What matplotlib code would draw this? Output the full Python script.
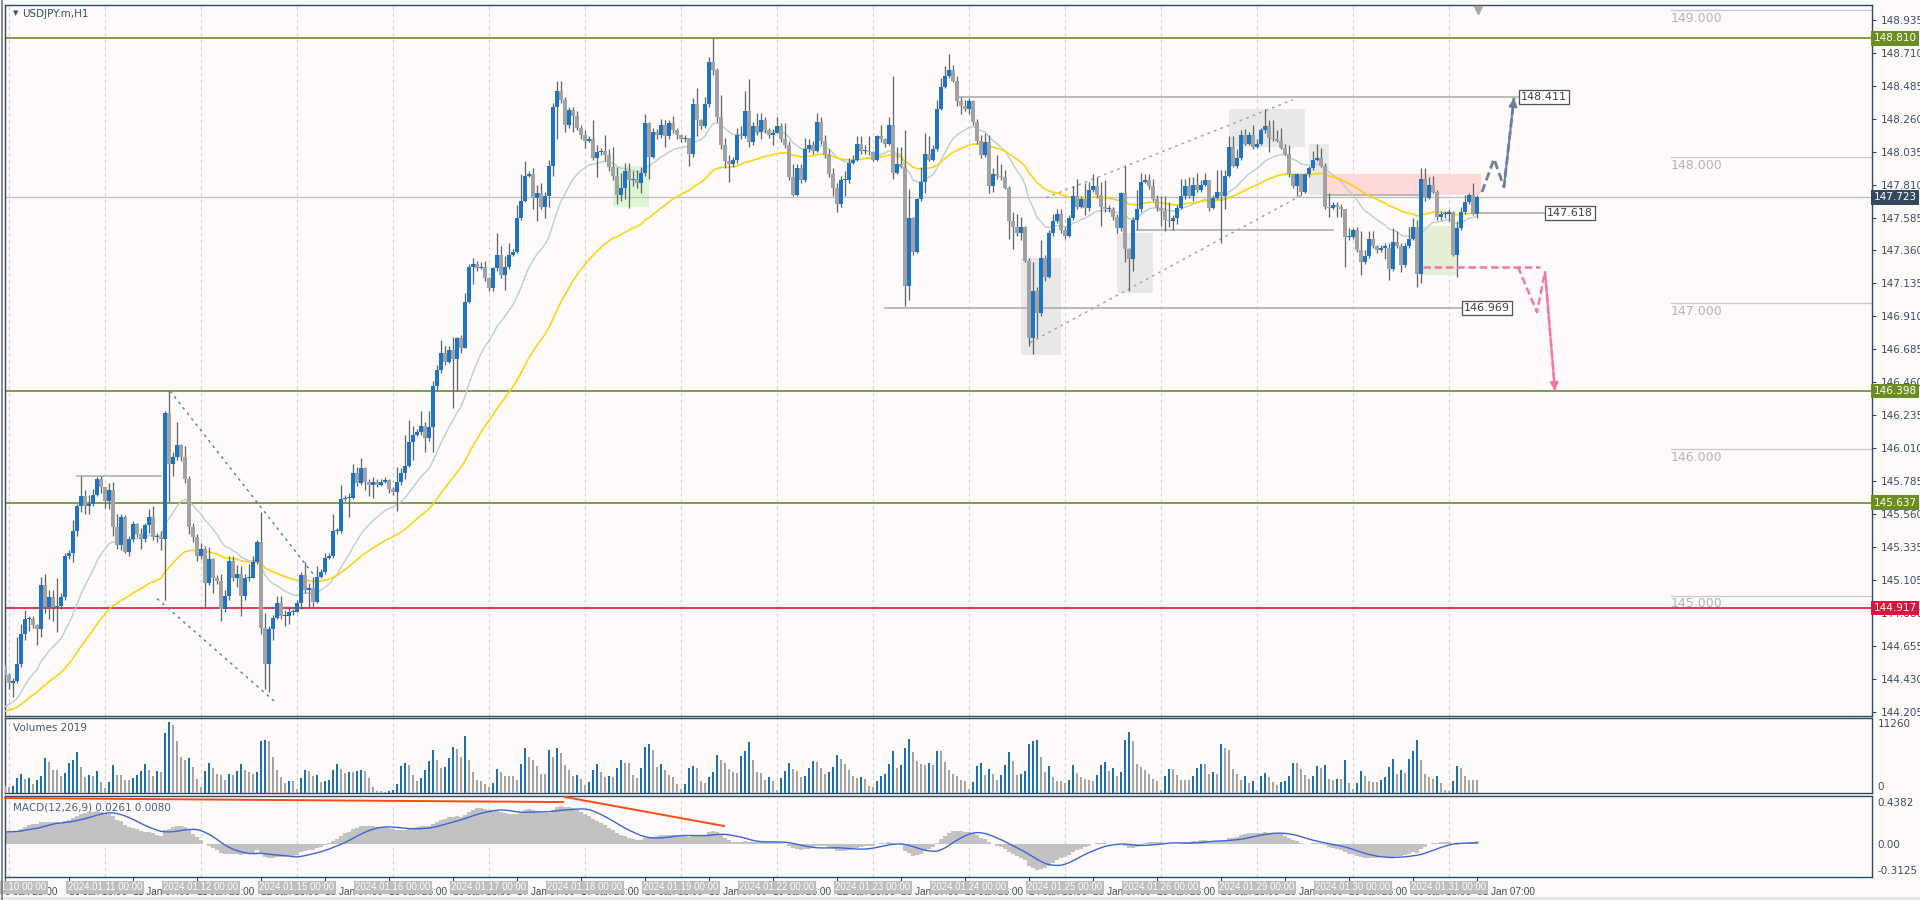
import matplotlib
matplotlib.use("Agg")
import matplotlib.pyplot as plt
import matplotlib.transforms as mtransforms
from matplotlib.patches import Rectangle
import numpy as np
import pandas as pd

# ---------------- data ----------------
symbol_title = "USDJPY.m,H1"
volume_title = "Volumes 2019"
macd_title = "MACD(12,26,9) 0.0261 0.0080"
trading_days = ["2024.01.10", "2024.01.11", "2024.01.12", "2024.01.15", "2024.01.16", "2024.01.17",
                "2024.01.18", "2024.01.19", "2024.01.22", "2024.01.23", "2024.01.24", "2024.01.25",
                "2024.01.26", "2024.01.29", "2024.01.30", "2024.01.31"]
first_bar_time = "2024-01-09 23:00"
first_open = 144.52

closes = [
    144.46, 144.40, 144.42, 144.53, 144.74, 144.84, 144.84, 144.80, 144.77, 145.07, 144.92, 144.99, 144.92,
    144.93, 144.99, 145.27, 145.29, 145.44, 145.61, 145.68, 145.61, 145.63, 145.69, 145.80, 145.74,
    145.65, 145.72, 145.47, 145.35, 145.54, 145.30, 145.39, 145.49, 145.42, 145.39, 145.48, 145.54,
    145.40, 145.40, 145.39, 146.25, 145.90, 145.95, 146.03, 145.95, 145.80, 145.47, 145.40, 145.27,
    145.32, 145.09, 145.25, 145.12, 145.10, 144.91, 145.00, 145.24, 145.12, 145.15, 145.00, 145.12,
    145.12, 145.23, 145.37, 144.78, 144.53, 144.77, 144.85, 144.95, 144.86, 144.86, 144.89, 144.89,
    144.95, 145.14, 145.04, 145.05, 144.96, 145.13, 145.16, 145.26, 145.27, 145.44, 145.44, 145.66,
    145.67, 145.67, 145.84, 145.77, 145.87, 145.78, 145.76, 145.78, 145.76, 145.78, 145.79, 145.73,
    145.71, 145.78, 145.84, 145.89, 146.05, 146.10, 146.12, 146.16, 146.08, 146.15, 146.43, 146.54,
    146.66, 146.60, 146.68, 146.62, 146.76, 146.69, 147.01, 147.25, 147.27, 147.24, 147.25, 147.17,
    147.10, 147.24, 147.33, 147.19, 147.25, 147.33, 147.35, 147.58, 147.70, 147.87, 147.88, 147.72,
    147.75, 147.66, 147.73, 147.94, 148.34, 148.45, 148.39, 148.22, 148.32, 148.28, 148.20, 148.15,
    148.11, 148.12, 147.99, 148.03, 148.04, 148.01, 147.93, 147.87, 147.74, 147.79, 147.90, 147.84,
    147.85, 147.82, 147.89, 148.23, 148.00, 148.17, 148.15, 148.22, 148.14, 148.23, 148.18, 148.15,
    148.12, 148.13, 148.02, 148.36, 148.25, 148.21, 148.36, 148.65, 148.59, 148.27, 148.08, 147.97,
    147.95, 147.98, 148.15, 148.14, 148.31, 148.10, 148.21, 148.17, 148.25, 148.18, 148.15, 148.16,
    148.21, 148.12, 148.08, 147.86, 147.74, 147.92, 147.84, 148.05, 148.08, 148.04, 148.24, 148.11,
    148.01, 147.88, 147.79, 147.68, 147.84, 147.84, 147.96, 147.98, 148.09, 148.04, 148.04, 148.03,
    147.98, 148.14, 148.12, 148.09, 148.22, 147.89, 147.95, 147.93, 147.12, 147.58, 147.35, 147.71,
    147.83, 148.02, 147.98, 148.05, 148.33, 148.48, 148.55, 148.59, 148.52, 148.38, 148.35, 148.33,
    148.38, 148.24, 148.11, 148.01, 148.10, 147.80, 147.88, 147.87, 147.86, 147.79, 147.56, 147.52,
    147.48, 147.52, 147.29, 146.76, 147.08, 146.93, 147.31, 147.18, 147.48, 147.56, 147.61, 147.50,
    147.46, 147.58, 147.73, 147.66, 147.71, 147.65, 147.77, 147.80, 147.74, 147.66, 147.64, 147.64,
    147.59, 147.51, 147.75, 147.37, 147.30, 147.57, 147.64, 147.83, 147.84, 147.80, 147.71, 147.65,
    147.63, 147.57, 147.56, 147.58, 147.65, 147.73, 147.80, 147.73, 147.81, 147.77, 147.81, 147.84,
    147.65, 147.72, 147.76, 147.73, 147.87, 148.07, 147.94, 147.99, 148.15, 148.09, 148.15, 148.07,
    148.09, 148.18, 148.21, 148.13, 148.12, 148.11, 148.06, 148.02, 147.88, 147.80, 147.88, 147.76,
    147.88, 147.92, 147.98, 147.99, 147.94, 147.66, 147.65, 147.67, 147.66, 147.64, 147.45, 147.45,
    147.50, 147.36, 147.28, 147.32, 147.44, 147.39, 147.36, 147.38, 147.38, 147.23, 147.42, 147.39,
    147.26, 147.39, 147.44, 147.52, 147.20, 147.85, 147.72, 147.81, 147.76, 147.59, 147.61, 147.61,
    147.62, 147.33, 147.51, 147.62, 147.69, 147.74, 147.61, 147.723,
]
highs = [
    144.54, 144.47, 144.44, 144.72, 144.81, 144.90, 144.86, 144.86, 144.81, 145.13, 145.15, 145.04, 145.04,
    145.12, 145.02, 145.29, 145.31, 145.52, 145.63, 145.82, 145.72, 145.69, 145.73, 145.81, 145.82,
    145.72, 145.77, 145.78, 145.56, 145.56, 145.55, 145.41, 145.51, 145.50, 145.46, 145.50, 145.59,
    145.61, 145.43, 145.44, 146.26, 146.40, 145.98, 146.19, 146.04, 146.02, 145.82, 145.50, 145.42,
    145.36, 145.34, 145.33, 145.26, 145.14, 145.15, 145.04, 145.27, 145.27, 145.21, 145.20, 145.15,
    145.22, 145.27, 145.38, 145.57, 144.88, 144.79, 144.87, 145.00, 145.00, 144.90, 144.92, 144.91,
    144.97, 145.16, 145.23, 145.09, 145.13, 145.20, 145.18, 145.29, 145.29, 145.56, 145.46, 145.76,
    145.69, 145.70, 145.90, 145.88, 145.94, 145.88, 145.80, 145.81, 145.80, 145.80, 145.81, 145.80,
    145.74, 145.88, 145.87, 146.10, 146.20, 146.16, 146.14, 146.26, 146.19, 146.26, 146.47, 146.58,
    146.75, 146.71, 146.71, 146.77, 146.77, 146.78, 147.07, 147.27, 147.31, 147.29, 147.28, 147.29,
    147.18, 147.25, 147.48, 147.39, 147.32, 147.41, 147.37, 147.67, 147.88, 147.97, 147.90, 147.92,
    147.81, 147.82, 147.76, 147.98, 148.37, 148.52, 148.52, 148.41, 148.34, 148.34, 148.31, 148.22,
    148.18, 148.14, 148.25, 148.08, 148.06, 148.15, 148.05, 148.07, 147.93, 147.89, 147.96, 147.96,
    147.90, 147.91, 147.93, 148.29, 148.24, 148.20, 148.19, 148.26, 148.25, 148.25, 148.28, 148.20,
    148.15, 148.15, 148.13, 148.40, 148.47, 148.26, 148.41, 148.68, 148.81, 148.61, 148.42, 148.13,
    148.01, 148.00, 148.20, 148.21, 148.45, 148.53, 148.24, 148.30, 148.30, 148.27, 148.20, 148.19,
    148.27, 148.23, 148.23, 148.11, 147.95, 147.95, 147.95, 148.13, 148.12, 148.11, 148.30, 148.27,
    148.15, 148.05, 147.92, 147.82, 147.87, 147.90, 147.99, 148.01, 148.14, 148.14, 148.08, 148.14,
    148.04, 148.15, 148.22, 148.13, 148.27, 148.55, 148.07, 148.07, 148.18, 147.78, 147.59, 147.72,
    147.93, 148.16, 148.14, 148.08, 148.39, 148.54, 148.62, 148.70, 148.63, 148.55, 148.41, 148.39,
    148.40, 148.39, 148.26, 148.15, 148.16, 148.15, 147.92, 148.01, 147.95, 147.91, 147.80, 147.62,
    147.61, 147.59, 147.53, 147.31, 147.28, 147.11, 147.43, 147.33, 147.50, 147.61, 147.64, 147.64,
    147.52, 147.60, 147.80, 147.85, 147.73, 147.82, 147.83, 147.88, 147.86, 147.83, 147.84, 147.67,
    147.66, 147.61, 147.76, 147.94, 147.38, 147.59, 147.77, 147.89, 147.88, 147.88, 147.85, 147.74,
    147.73, 147.73, 147.69, 147.60, 147.67, 147.85, 147.85, 147.86, 147.86, 147.89, 147.84, 147.89,
    147.79, 147.74, 147.91, 147.91, 147.91, 148.14, 148.14, 148.05, 148.18, 148.19, 148.17, 148.22,
    148.12, 148.20, 148.33, 148.25, 148.25, 148.18, 148.20, 148.09, 148.08, 147.88, 147.89, 147.89,
    147.89, 147.94, 148.04, 148.09, 148.06, 147.96, 147.75, 147.69, 147.69, 147.68, 147.64, 147.51,
    147.51, 147.52, 147.49, 147.36, 147.49, 147.49, 147.40, 147.40, 147.41, 147.41, 147.51, 147.49,
    147.41, 147.41, 147.52, 147.58, 147.57, 147.92, 147.92, 147.86, 147.87, 147.77, 147.63, 147.63,
    147.64, 147.63, 147.56, 147.66, 147.74, 147.75, 147.82, 147.74,
]
lows = [
    144.44, 144.36, 144.31, 144.40, 144.51, 144.70, 144.76, 144.78, 144.66, 144.72, 144.88, 144.84, 144.83,
    144.75, 144.91, 144.97, 145.25, 145.23, 145.41, 145.57, 145.56, 145.56, 145.61, 145.68, 145.70,
    145.60, 145.59, 145.41, 145.32, 145.31, 145.29, 145.27, 145.37, 145.40, 145.32, 145.37, 145.43,
    145.38, 145.37, 145.31, 144.97, 145.64, 145.82, 145.93, 145.92, 145.77, 145.42, 145.37, 145.24,
    145.25, 144.92, 145.07, 145.02, 145.08, 144.83, 144.89, 144.97, 145.10, 145.06, 144.86, 144.97,
    145.10, 145.13, 145.22, 144.74, 144.36, 144.34, 144.70, 144.84, 144.84, 144.79, 144.81, 144.87,
    144.92, 144.91, 145.02, 144.92, 144.92, 144.95, 145.12, 145.15, 145.25, 145.26, 145.42, 145.43,
    145.65, 145.54, 145.66, 145.75, 145.76, 145.72, 145.68, 145.67, 145.74, 145.75, 145.77, 145.70,
    145.69, 145.58, 145.76, 145.80, 145.88, 145.93, 146.09, 146.10, 145.98, 146.06, 145.98, 146.40,
    146.52, 146.58, 146.59, 146.28, 146.40, 146.66, 146.69, 147.00, 147.13, 147.22, 147.23, 147.15,
    147.08, 147.08, 147.22, 147.17, 147.09, 147.23, 147.32, 147.34, 147.57, 147.69, 147.86, 147.64,
    147.56, 147.64, 147.58, 147.66, 147.87, 148.12, 148.37, 148.17, 148.20, 148.17, 148.18, 148.12,
    148.06, 148.10, 147.98, 147.86, 148.01, 147.97, 147.90, 147.84, 147.68, 147.70, 147.71, 147.65,
    147.80, 147.79, 147.75, 147.87, 147.85, 147.99, 148.12, 148.13, 148.07, 148.12, 148.16, 148.12,
    148.10, 148.10, 147.94, 148.00, 148.14, 148.19, 148.20, 148.34, 148.56, 148.24, 148.05, 147.92,
    147.83, 147.93, 147.96, 148.12, 148.13, 148.07, 148.08, 148.15, 148.12, 148.16, 148.13, 148.08,
    148.18, 148.10, 148.06, 147.84, 147.73, 147.73, 147.82, 147.83, 148.03, 148.02, 148.03, 148.09,
    147.99, 147.86, 147.73, 147.62, 147.66, 147.73, 147.82, 147.95, 147.97, 148.02, 148.02, 148.01,
    147.97, 147.97, 148.10, 148.07, 148.08, 147.85, 147.88, 147.92, 146.98, 147.02, 147.33, 147.34,
    147.70, 147.75, 147.97, 147.97, 148.04, 148.32, 148.47, 148.54, 148.51, 148.35, 148.29, 148.31,
    148.29, 148.22, 148.09, 147.99, 148.00, 147.75, 147.76, 147.85, 147.84, 147.78, 147.44, 147.37,
    147.46, 147.43, 147.28, 146.71, 146.65, 146.77, 146.91, 147.15, 147.17, 147.46, 147.55, 147.48,
    147.44, 147.45, 147.57, 147.64, 147.65, 147.60, 147.63, 147.76, 147.72, 147.53, 147.62, 147.62,
    147.57, 147.48, 147.49, 147.28, 147.08, 147.22, 147.50, 147.62, 147.82, 147.78, 147.70, 147.63,
    147.53, 147.49, 147.52, 147.50, 147.54, 147.64, 147.71, 147.72, 147.70, 147.76, 147.76, 147.80,
    147.63, 147.64, 147.71, 147.41, 147.64, 147.86, 147.93, 147.92, 147.98, 148.08, 148.08, 148.05,
    148.06, 148.08, 148.16, 148.03, 148.11, 148.10, 148.05, 148.01, 147.86, 147.79, 147.73, 147.74,
    147.75, 147.86, 147.91, 147.97, 147.93, 147.64, 147.59, 147.64, 147.59, 147.59, 147.25, 147.43,
    147.44, 147.35, 147.19, 147.27, 147.31, 147.38, 147.34, 147.35, 147.30, 147.16, 147.22, 147.38,
    147.21, 147.25, 147.38, 147.43, 147.11, 147.14, 147.70, 147.71, 147.75, 147.57, 147.57, 147.58,
    147.56, 147.32, 147.18, 147.50, 147.61, 147.68, 147.60, 147.58,
]
volumes = [
    1113, 1007, 1113, 2491, 3021, 2279, 2385, 1431, 2067, 2703, 5565, 4929, 3657, 3657, 2703, 3180, 4770,
    5247, 6519, 4134, 2544, 2862, 2703, 3498, 1749,
    848, 1749, 4452, 2862, 2862, 2067, 2067, 2385, 2862, 3498, 4611, 3657, 2703, 3498, 3339, 9540, 11260,
    10812, 8268, 5724, 5247, 5565, 4134, 2226,
    954, 3498, 4770, 3975, 3021, 2862, 2067, 3021, 2862, 3498, 4611, 3657, 3339, 3021, 3339, 8268, 8427,
    8268, 5724, 3657, 2544, 1590, 1908, 1908,
    636, 2385, 3657, 3498, 2703, 2862, 1749, 1908, 2067, 3657, 4611, 3816, 3180, 3339, 3339, 3498, 3657,
    3498, 2385, 954, 318, 318, 159, 318,
    477, 1431, 4293, 4770, 4452, 2862, 1908, 2385, 3657, 5088, 6837, 5247, 3975, 4134, 5565, 7314, 6996,
    5724, 9063, 5247, 3339, 2067, 1908, 1431,
    954, 1590, 3816, 3339, 2703, 2703, 2703, 2067, 4611, 7155, 5724, 5247, 4293, 3021, 3021, 6837, 5724,
    7155, 6360, 4452, 3657, 2703, 2862, 2226,
    1272, 1749, 3657, 4611, 3339, 2544, 2703, 2544, 3975, 5247, 4770, 4770, 2862, 2385, 3975, 7314, 7791,
    6837, 4134, 4611, 3657, 2862, 2544, 1431,
    636, 1431, 3975, 4293, 3975, 1908, 1590, 2544, 3339, 6042, 5247, 4770, 3816, 3339, 3180, 5883, 6678,
    8109, 5247, 3339, 3180, 2067, 2544, 1908,
    477, 2385, 3498, 4770, 3816, 3498, 2544, 2703, 3975, 5088, 4929, 3975, 3021, 3339, 4134, 6042, 5406,
    4611, 3657, 2703, 2385, 2544, 2226, 1113,
    954, 1908, 2703, 3021, 4611, 6678, 3975, 4452, 7155, 8586, 6519, 5088, 4611, 4452, 4770, 4452, 6678,
    6678, 4929, 3657, 3021, 2703, 2067, 1908,
    636, 1749, 4293, 4770, 2862, 3816, 3021, 2067, 2862, 4452, 6519, 5088, 2862, 3021, 3498, 7791, 8268,
    8427, 5724, 3339, 4293, 2544, 1908, 1908,
    1590, 2067, 4452, 3180, 2544, 2226, 2067, 1908, 2862, 4452, 4929, 3498, 3975, 2703, 3339, 8427, 9699,
    8268, 4611, 4134, 3657, 3021, 2332, 1908,
    477, 2703, 3816, 3816, 2862, 2067, 2067, 2067, 2703, 3975, 4611, 4611, 3021, 3339, 3021, 7791, 7155,
    6837, 3816, 3021, 2067, 2703, 1590, 1908,
    477, 2703, 3180, 2544, 1749, 1272, 1749, 1908, 2703, 4770, 4770, 3816, 2862, 2226, 2703, 4293, 3975,
    4452, 2226, 2067, 2226, 2226, 5247, 1590,
    636, 1590, 3498, 2703, 1908, 1749, 1749, 2067, 2544, 4134, 5406, 3021, 3657, 3180, 5406, 6678, 8427,
    5247, 3021, 2544, 2226, 2703, 1590, 477,
    318, 1908, 4293, 3975, 2703, 2067, 2067, 2067,
]

# levels and axis values
key_levels = [148.810, 146.398, 145.637, 144.917]
key_level_colors = ["#6b8e23", "#6b8e23", "#6b8e23", "#dc143c"]
bid_price = 147.723
round_levels = [149.0, 148.0, 147.0, 146.0, 145.0]
price_ticks = [148.935, 148.710, 148.485, 148.260, 148.035, 147.810, 147.585, 147.360, 147.135,
               146.910, 146.685, 146.460, 146.235, 146.010, 145.785, 145.560, 145.335, 145.105,
               144.880, 144.655, 144.430, 144.205]
volume_labels = ["11260", "0"]
macd_labels = ["0.4382", "0.00", "-0.3125"]

# indicator settings and starting values read at the left edge
fast_ma_period, fast_ma_start = 20, 144.22
slow_ma_period, slow_ma_start = 50, 144.20
macd_fast_start, macd_slow_start = 144.22, 144.10

# drawn objects (bar index, price)
grey_levels = [(238, 378.5, 148.411, "148.411"), (368, 385, 147.618, "147.618"),
               (220, 364.3, 146.969, "146.969")]
short_lines = [(18, 39, 145.82), (283, 332, 147.50), (330, 356, 147.74)]
boxes = [(152, 161, 147.66, 147.94, "#dcf7d4"), (254, 264, 146.645, 147.308, "#e8e8e8"),
         (278, 287, 147.07, 147.48, "#e8e8e8"), (306, 325, 148.07, 148.33, "#e8e8e8"),
         (326, 331, 147.74, 148.09, "#e8e8e8"), (329.5, 369, 147.74, 147.88, "#ffd9d9"),
         (354, 363, 147.19, 147.53, "#e4efd6")]
blue_dotted = [[(41.25, 146.40), (77, 145.15)], [(38, 144.98), (67.3, 144.28)]]
channel_lines = [[(260.25, 147.72), (322, 148.39)], [(256.25, 146.73), (325, 147.75)]]
up_path = [(369.25, 147.759), (372.25, 147.985), (374.75, 147.794), (377.25, 148.402)]
pink_level = [(354.5, 147.247), (383.75, 147.247)]
down_path = [(378.25, 147.247), (383, 146.939), (385, 147.213), (387.5, 146.40)]
macd_trend_lines = [[(0, 0.492), (139.5, 0.449)], [(140, 0.503), (179.75, 0.193)]]

# ---------------- derived series ----------------
n = len(closes)
if not (len(highs) == len(lows) == len(volumes) == n):
    raise ValueError(f"length mismatch {n} {len(highs)} {len(lows)} {len(volumes)}")

times = [pd.Timestamp(first_bar_time)]
for d in trading_days:
    day = pd.Timestamp(d.replace(".", "-"))
    hours = 8 if d == trading_days[-1] else 24
    times += [day + pd.Timedelta(hours=hh) for hh in range(hours)]
times = times[:n]

c = np.array(closes)
o = np.concatenate([[first_open], c[:-1]])
h = np.maximum(np.array(highs), np.maximum(o, c))
l = np.minimum(np.array(lows), np.minimum(o, c))
idx = np.arange(n)


def ema(values, period, start):
    alpha = 2.0 / (period + 1)
    out, prev = [], start
    for v in values:
        prev = prev + alpha * (v - prev)
        out.append(prev)
    return np.array(out)


fast_ma = ema(c, fast_ma_period, fast_ma_start)
slow_ma = ema(c, slow_ma_period, slow_ma_start)
macd = ema(c, 12, macd_fast_start) - ema(c, 26, macd_slow_start)
signal = pd.Series(macd).rolling(9, min_periods=1).mean().values

# ---------------- figure ----------------
BG = "#fdfaf9"
FRAME = "#2e4a62"
TXT = "#3b4d63"
W, H = 1920, 900
plt.rcParams["font.family"] = ["DejaVu Sans"]
TIME_FONT = ["Liberation Sans", "DejaVu Sans"]

fig = plt.figure(figsize=(19.2, 9), dpi=100, facecolor=BG)


def px_axes(x0, y0, x1, y1):
    a = fig.add_axes([x0 / W, 1 - y1 / H, (x1 - x0) / W, (y1 - y0) / H])
    a.set_facecolor(BG)
    for s in a.spines.values():
        s.set_color(FRAME)
        s.set_linewidth(1.0)
    return a


ax = px_axes(4.5, 5, 1872, 715.7)
axv = px_axes(4.5, 717.7, 1872, 793.3)
axm = px_axes(4.5, 796, 1872, 877.3)
XLIM = (-0.125, 466.75)
for a in (ax, axv, axm):
    a.set_xlim(*XLIM)
    a.set_xticks([])
    a.set_yticks([])
    for k in range(1, n, 24):
        a.axvline(k, color="#d2d2d2", lw=0.8, ls=(0, (3, 3)), zorder=0)

ax.set_ylim(144.1799, 149.0375)

# boxes
for k0, k1, p0, p1, col in boxes:
    ax.add_patch(Rectangle((k0, p0), k1 - k0, p1 - p0, facecolor=col, edgecolor="none", zorder=1))

# round number lines
for lv in round_levels:
    ax.plot([416.5, XLIM[1]], [lv, lv], color="#c8c8c8", lw=0.9, zorder=1)
    ax.text(416.5, lv - 0.012, f"{lv:.3f}", color="#b4b4b4", fontsize=9, va="top", ha="left", zorder=1)

# key levels
for lv, col in zip(key_levels, key_level_colors):
    ax.axhline(lv, color=col, lw=1.2, zorder=2)
ax.axhline(bid_price, color="#bdbdbd", lw=0.9, zorder=2)

for k0, k1, lv, lab in grey_levels:
    ax.plot([k0, k1], [lv, lv], color="#a8a8a8", lw=1.1, zorder=2)
    ax.text(k1 + 0.5, lv, lab, fontsize=8, color="#404040", va="center", ha="left", zorder=6,
            bbox=dict(boxstyle="square,pad=0.18", facecolor="white", edgecolor="#505050", lw=0.9))
for k0, k1, lv in short_lines:
    ax.plot([k0, k1], [lv, lv], color="#a8a8a8", lw=1.1, zorder=2)

for seg in blue_dotted:
    xs, ys = zip(*seg)
    ax.plot(xs, ys, color="#4a7fb0", lw=1.0, ls=(0, (2, 3)), zorder=2)
for seg in channel_lines:
    xs, ys = zip(*seg)
    ax.plot(xs, ys, color="#a0a0a0", lw=1.0, ls=(0, (2, 3)), zorder=2)

# moving averages
ax.plot(idx, fast_ma, color="#b9cfcf", lw=1.0, zorder=3)
ax.plot(idx, slow_ma, color="#ffd200", lw=1.1, zorder=3)

# candles
ax.vlines(idx, l, h, color="#5c6464", lw=0.9, zorder=4)
body_lo = np.minimum(o, c)
body_h = np.maximum(np.abs(c - o), 0.008)
up = c >= o
ax.bar(idx[up], body_h[up], bottom=body_lo[up], width=0.76, color="#1f74c2", lw=0, zorder=5)
ax.bar(idx[~up], body_h[~up], bottom=body_lo[~up], width=0.76, color="#a2a2a2", lw=0, zorder=5)

# forecast arrows
xs, ys = zip(*up_path)
ax.plot(xs, ys, color="#6b7f9e", lw=2.0, ls=(0, (3, 1.5)), zorder=6, clip_on=False)
ax.annotate("", xy=up_path[-1], xytext=up_path[-2], zorder=6,
            arrowprops=dict(arrowstyle="-|>", color="#6b7f9e", lw=1.5, mutation_scale=12,
                            shrinkA=0, shrinkB=0))
xs, ys = zip(*pink_level)
ax.plot(xs, ys, color="#f277a8", lw=1.8, ls=(0, (3, 1.5)), zorder=6)
xs, ys = zip(*down_path)
ax.plot(xs, ys, color="#f277a8", lw=1.8, ls=(0, (3, 1.5)), zorder=6)
ax.annotate("", xy=down_path[-1], xytext=down_path[-2], zorder=6,
            arrowprops=dict(arrowstyle="-|>", color="#f277a8", lw=1.5, mutation_scale=12,
                            shrinkA=0, shrinkB=0))

# price axis
ax.yaxis.tick_right()
ax.set_yticks(price_ticks)
ax.set_yticklabels([f"{t:.3f}" for t in price_ticks])
ax.tick_params(axis="y", direction="out", length=3, width=0.8, pad=3, labelsize=7.5,
               colors=FRAME, labelcolor=TXT)
right = mtransforms.blended_transform_factory(ax.transAxes, ax.transData)
for lv, col in list(zip(key_levels, key_level_colors)) + [(bid_price, "#34495e")]:
    ax.text(1.0008, lv, f"{lv:.3f}", transform=right, fontsize=7.5, color="white", ha="left",
            va="center", zorder=10, clip_on=False,
            bbox=dict(boxstyle="square,pad=0.22", facecolor=col, edgecolor="none"))

# header
ax.text(0.0045, 0.988, "\u25bc", transform=ax.transAxes, fontsize=5, color=TXT, va="center")
ax.text(0.0093, 0.988, symbol_title, transform=ax.transAxes, fontsize=7.5, color=TXT, va="center")
top = mtransforms.blended_transform_factory(ax.transData, ax.transAxes)
ax.plot([n - 0.75], [0.993], marker="v", color="#a8a8a8", markersize=6, transform=top, clip_on=False,
        zorder=10)

# volumes
vol = np.array(volumes)
vol_up = np.concatenate([[False], vol[1:] > vol[:-1]])
axv.bar(idx, vol, width=0.64, color=np.where(vol_up, "#1f6fb0", "#a4a4a4"), lw=0, zorder=3)
axv.set_ylim(0, 11940)
axv.text(0.0045, 0.86, volume_title, transform=axv.transAxes, fontsize=7.5, color="#4a5866",
         va="center")
axv.text(1.003, 0.917, volume_labels[0], transform=axv.transAxes, fontsize=7.5, color=TXT, va="center")
axv.text(1.003, 0.083, volume_labels[1], transform=axv.transAxes, fontsize=7.5, color=TXT, va="center")

# MACD
axm.set_ylim(-0.356, 0.514)
axm.bar(idx, macd, width=1.0, color="#c2c2c2", lw=0, zorder=2)
axm.plot(idx, signal, color="#3f63dc", lw=1.0, zorder=3)
for seg in macd_trend_lines:
    xs, ys = zip(*seg)
    axm.plot(xs, ys, color="#ff4a10", lw=1.4, zorder=4, clip_on=False)
axm.text(0.0045, 0.86, macd_title, transform=axm.transAxes, fontsize=7.5, color="#4a6080", va="center")
for lab, yf in zip(macd_labels, [0.914, 0.401, 0.0775]):
    axm.text(1.003, yf, lab, transform=axm.transAxes, fontsize=7.5, color=TXT, va="center")

# time axis
tick_idx = list(range(0, n, 16))
axm.set_xticks(tick_idx)
axm.set_xticklabels([f"{times[k].day} Jan {times[k]:%H:%M}" for k in tick_idx], ha="left",
                    family=TIME_FONT)
axm.tick_params(axis="x", direction="out", length=4, width=0.8, pad=3, labelsize=7.2,
                colors=FRAME, labelcolor=TXT)
bottom = mtransforms.blended_transform_factory(axm.transData, axm.transAxes)
for i, d in enumerate(trading_days):
    k = 1 + 24 * i
    axm.text(k, -0.125, f"{d} 00:00", transform=bottom, fontsize=7.0, family=TIME_FONT, color="white",
             ha="center", va="center", zorder=10, clip_on=False,
             bbox=dict(boxstyle="square,pad=0.16", facecolor="#bdbdbd", edgecolor="none"))

# window border on the left and bottom strip
fig.add_artist(plt.Line2D([1.5 / W, 1.5 / W], [0, 1], color="#6a7a88", lw=1.2))
fig.add_artist(Rectangle((0, 0), 1, 3 / H, transform=fig.transFigure, facecolor="#e6e6e6",
                         edgecolor="none"))

fig.savefig("out.png", dpi=100, facecolor=fig.get_facecolor())
